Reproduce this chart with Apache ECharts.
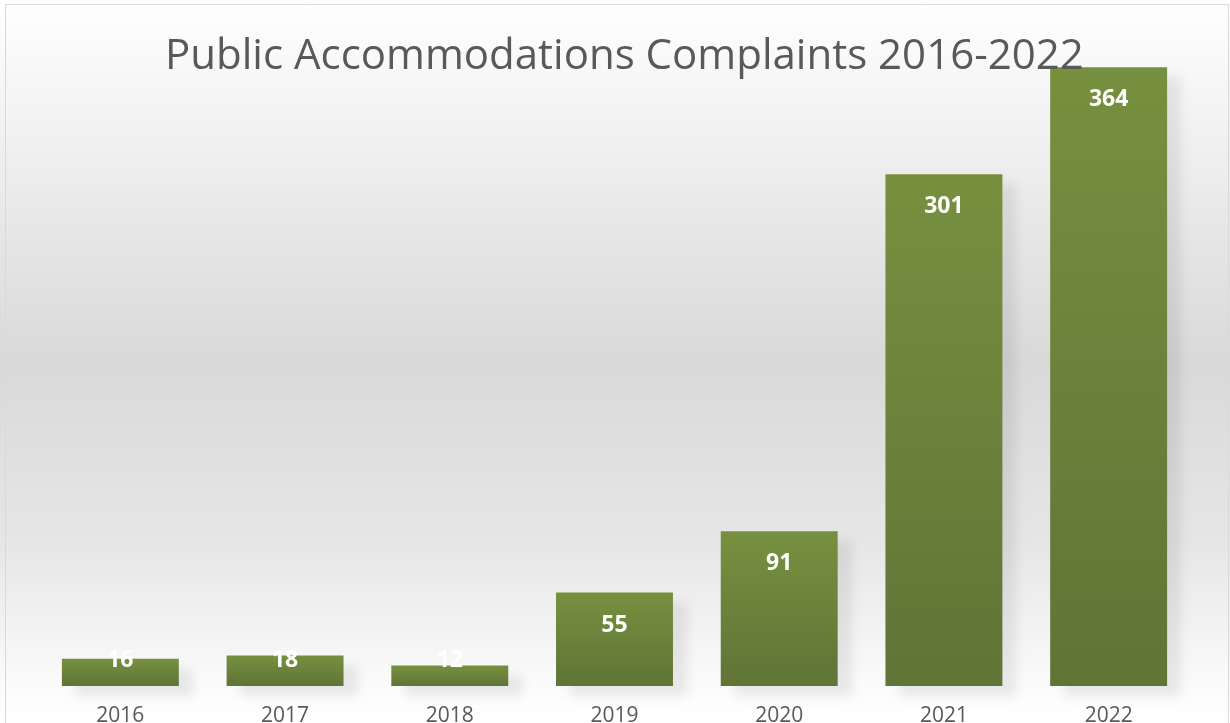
<!DOCTYPE html>
<html>
<head>
<meta charset="utf-8">
<script src="https://cdn.jsdelivr.net/npm/echarts@6/dist/echarts.min.js"></script>
<style>
  html, body { margin: 0; padding: 0; background: #fff; }
  #chart { width: 1230px; height: 723px; }
</style>
</head>
<body>
<div id="chart"></div>
<script>
const years = ["2016", "2017", "2018", "2019", "2020", "2021", "2022"];
const complaints = [16, 18, 12, 55, 91, 301, 364];

const chart = echarts.init(document.getElementById("chart"));

// short bars: Excel pushes the label up so it doesn't sit below the axis
const barData = complaints.map((v) => {
  if (v < 40) {
    return { value: v, label: { position: "insideBottom", distance: 14 } };
  }
  return v;
});

const option = {
  animation: false,
  backgroundColor: {
    type: "linear", x: 0, y: 0, x2: 0, y2: 1,
    colorStops: [
      { offset: 0, color: "#ffffff" },
      { offset: 0.5, color: "#d9d9d9" },
      { offset: 0.75, color: "#e6e6e6" },
      { offset: 0.95, color: "#fbfbfb" },
      { offset: 1, color: "#ffffff" },
    ],
  },
  graphic: [
    {
      type: "rect",
      shape: { x: 5.5, y: 4.5, width: 1223, height: 740 },
      style: { fill: "none", stroke: "#d9d9d9", lineWidth: 1 },
      z: 100,
    },
  ],
  title: {
    text: "Public Accommodations Complaints 2016-2022",
    left: 160,
    top: 31,
    textStyle: {
      fontFamily: "Open Sans",
      fontSize: 42,
      fontWeight: "normal",
      color: "#595959",
    },
  },
  grid: { left: 38, right: 39, top: 6, bottom: 37, outerBoundsMode: "none" },
  xAxis: {
    type: "category",
    data: years,
    axisLine: { show: false },
    axisTick: { show: false },
    axisLabel: {
      margin: 20,
      fontFamily: "Open Sans",
      fontSize: 21,
      color: "#595959",
    },
  },
  yAxis: {
    type: "value",
    min: 0,
    max: 400,
    interval: 50,
    show: false,
    splitLine: { show: false },
  },
  series: [
    {
      type: "bar",
      data: barData,
      barCategoryGap: "29%",
      itemStyle: {
        color: {
          type: "linear", x: 0, y: 0, x2: 0, y2: 1,
          colorStops: [
            { offset: 0, color: "#77903f" },
            { offset: 1, color: "#5f7436" },
          ],
        },
        shadowColor: "rgba(0,0,0,0.08)",
        shadowBlur: 10,
        shadowOffsetX: 14,
        shadowOffsetY: 10,
      },
      label: {
        show: true,
        position: "insideTop",
        distance: 21,
        color: "#ffffff",
        fontFamily: "Open Sans",
        fontWeight: "bold",
        fontSize: 23,
      },
    },
  ],
};

chart.setOption(option);
</script>
</body>
</html>
